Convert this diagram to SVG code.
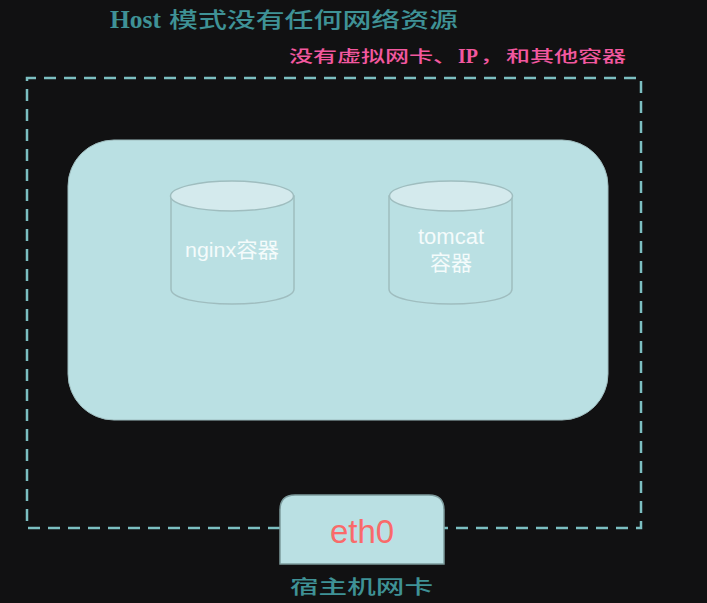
<svg xmlns="http://www.w3.org/2000/svg" width="707" height="603" viewBox="0 0 707 603">
<style>
.cjk{font-family:"Noto Sans CJK SC","Liberation Sans",sans-serif;font-weight:500}
.ser{font-family:"Liberation Serif","Noto Sans CJK SC",serif}
.cyl{fill:#bae0e3;stroke:#9fbdbf;stroke-width:1.5}
.top{fill:#d4eaed;stroke:#9fbdbf;stroke-width:1.5}
.w{font-family:"Liberation Sans","Noto Sans CJK SC",sans-serif;fill:#f4fbfb;font-size:21px;text-anchor:middle}
.teal{fill:#3f9296}
.pink{fill:#f2589f}
</style>
<rect width="707" height="603" fill="#111112"/>
<g id="connectors">
<path d="M280 528H27V78H641V528H444" fill="none" stroke="#7cbfc1" stroke-width="2.5" stroke-dasharray="12 8"/>
</g>
<g id="host">
<rect x="68" y="140" width="540" height="280" rx="46" fill="#bae0e3" stroke="#9fbdbf" stroke-width="1"/>
</g>
<g id="nginx">
<path class="cyl" d="M171 196V289C171 298 198 304 232 304S294 298 294 289V196Z"/>
<ellipse class="top" cx="232" cy="196" rx="61.500" ry="15"/>
<text class="w" x="232" y="257" font-weight="400" textLength="94" lengthAdjust="spacingAndGlyphs">nginx容器</text>
</g>
<g id="tomcat">
<path class="cyl" d="M389 196V289C389 298 416 304 451 304S512 298 512 289V196Z"/>
<ellipse class="top" cx="451" cy="196" rx="61.500" ry="15"/>
<text class="w" x="451" y="244" style="font-size:22px">tomcat</text>
<text class="w" x="451" y="270">容器</text>
</g>
<g id="eth0">
<path d="M280 564V510Q280 495 295 495H429Q444 495 444 510V564Z" fill="#bae0e3" stroke="#7c9a9c" stroke-width="1.500"/>
<text x="362" y="543" font-family="Liberation Sans,sans-serif" font-size="33" fill="#f96a6a" text-anchor="middle">eth0</text>
</g>
<g id="labels">
<text class="ser teal" x="110" y="28" font-size="25" font-weight="700" textLength="51" lengthAdjust="spacingAndGlyphs">Host</text>
<text class="cjk teal" x="169" y="27" font-size="21" textLength="289" lengthAdjust="spacingAndGlyphs">模式没有任何网络资源</text>
<text class="cjk pink" x="289" y="62" font-size="16" textLength="168" lengthAdjust="spacingAndGlyphs">没有虚拟网卡、</text>
<text class="ser pink" x="458" y="63" font-size="21" font-weight="700" textLength="20" lengthAdjust="spacingAndGlyphs">IP</text>
<text class="cjk pink" x="480" y="62" font-size="16" textLength="24" lengthAdjust="spacingAndGlyphs">，</text>
<text class="cjk pink" x="506" y="62" font-size="16" textLength="120" lengthAdjust="spacingAndGlyphs">和其他容器</text>
<text class="cjk teal" x="290" y="594" font-size="19" textLength="143" lengthAdjust="spacingAndGlyphs">宿主机网卡</text>
</g>
</svg>
